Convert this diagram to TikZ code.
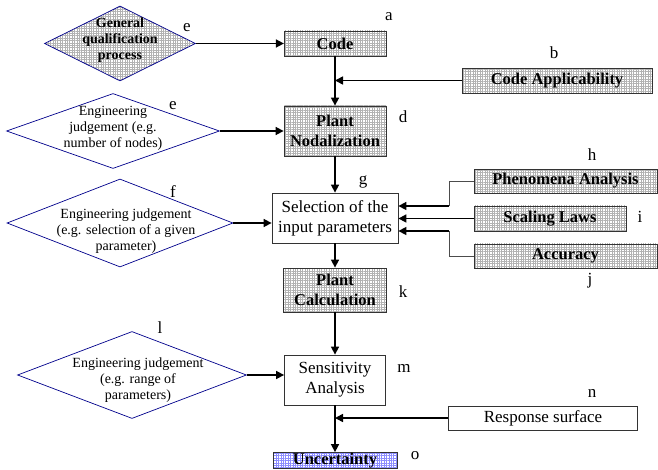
\documentclass[tikz,border=0pt]{standalone}
\usepackage{fontspec}
\setmainfont{Liberation Serif}
\usetikzlibrary{shapes.geometric, arrows.meta, patterns.meta}

\begin{document}
\begin{tikzpicture}[x=1pt, y=-1pt,
  block/.style={rectangle, draw=black!80, line width=0.8pt, align=center, inner sep=0pt, font=\fontsize{17}{20}\selectfont},
  grid/.style={pattern={Hatch[distance=2.4pt, line width=0.25pt]}, pattern color=black!30},
  hatched/.style={block, grid, font=\fontsize{16.5}{20}\selectfont\bfseries},
  judge/.style={diamond, draw=blue!55!black, line width=0.7pt, inner sep=0pt},
  judgetext/.style={align=center, inner sep=0pt, font=\fontsize{14}{16}\selectfont},
  tag/.style={inner sep=0pt, font=\fontsize{17}{20}\selectfont},
  flow/.style={line width=1.6pt, -{Triangle[length=8pt, width=8pt]}},
  feed/.style={line width=0.8pt, draw=black!70}]
  \fill[white] (0,0) rectangle (658,470);
  \useasboundingbox (0,0) rectangle (658,470);

  \node[hatched, minimum width=102pt, minimum height=25pt] (code) at (335,43.5) {Code};
  \node[hatched, minimum width=190pt, minimum height=25pt] (appl) at (557,80.5) {Code Applicability};
  \node[hatched, minimum width=102pt, minimum height=50pt] (nodal) at (335,131) {Plant\\Nodalization};
  \node[block, minimum width=126pt, minimum height=50pt] (sel) at (335,218) {Selection of the\\input parameters};
  \node[hatched, minimum width=183pt, minimum height=24pt] (phen) at (565.5,181) {Phenomena Analysis};
  \node[hatched, minimum width=152pt, minimum height=25pt] (scal) at (550,218.5) {Scaling Laws};
  \node[hatched, minimum width=183pt, minimum height=24pt] (accu) at (565.5,256) {Accuracy};
  \node[hatched, minimum width=103pt, minimum height=44pt] (calc) at (335,290) {Plant\\Calculation};
  \node[block, minimum width=101pt, minimum height=50pt] (sens) at (335,380) {Sensitivity\\Analysis};
  \node[block, minimum width=189pt, minimum height=24pt] (resp) at (543,418) {Response surface};
  \node[hatched, pattern color=blue!45, minimum width=124pt, minimum height=16pt] (unc) at (335,460.5) {Uncertainty};

  \node[judge, grid, minimum width=151pt, minimum height=75pt] (gq) at (120,43.5) {};
  \node[judgetext, font=\fontsize{14}{16}\selectfont\bfseries] (gqtext) at (120,40) {General\\qualification\\process};
  \node[judge, minimum width=213pt, minimum height=75pt] (ej1) at (113,131) {};
  \node[judgetext] (ej1text) at (113,128) {Engineering\\judgement (e.g.\\number of nodes)};
  \node[judge, minimum width=226pt, minimum height=88pt] (ej2) at (120,223) {};
  \node[judgetext] (ej2text) at (126,231) {Engineering judgement\\(e.g. selection of a given\\parameter)};
  \node[judge, minimum width=229pt, minimum height=87pt] (ej3) at (132,375) {};
  \node[judgetext] (ej3text) at (138,380) {Engineering judgement\\(e.g. range of\\parameters)};

  \node[tag] (la) at (389,17) {a};
  \node[tag] (lb) at (554,53) {b};
  \node[tag] (le1) at (187,28) {e};
  \node[tag] (le2) at (173,106) {e};
  \node[tag] (ld) at (403,117) {d};
  \node[tag] (lh) at (592,155) {h};
  \node[tag] (lg) at (363,182) {g};
  \node[tag] (lf) at (173,192) {f};
  \node[tag] (li) at (640,217) {i};
  \node[tag] (lj) at (590,281) {j};
  \node[tag] (lk) at (403,292) {k};
  \node[tag] (ll) at (160,328) {l};
  \node[tag] (lm) at (404,368) {m};
  \node[tag] (ln) at (592,393) {n};
  \node[tag] (lo) at (415,456) {o};

  \coordinate (phenbend) at (449,206);
  \coordinate (accubend) at (449,231);

  \draw[flow] (gq.east) -- (code.west);
  \draw[flow] (ej1.east) -- (nodal.west);
  \draw[flow] (ej2.east) -- (ej2.east -| sel.west);
  \draw[flow] (ej3.east) -- (ej3.east -| sens.west);
  \draw[flow] (code.south) -- (nodal.north);
  \draw[flow] (appl.west) -- (appl.west -| code.south);
  \draw[flow] (nodal.south) -- (sel.north);
  \draw[flow] (sel.south) -- (calc.north);
  \draw[flow] (calc.south) -- (sens.north);
  \draw[flow] (sens.south) -- (unc.north);
  \draw[flow] (resp.west) -- (resp.west -| sens.south);
  \draw[feed] (phen.west) -| (phenbend);
  \draw[flow] (phenbend) -- (phenbend -| sel.east);
  \draw[flow] (scal.west) -- (scal.west -| sel.east);
  \draw[feed] (accu.west) -| (accubend);
  \draw[flow] (accubend) -- (accubend -| sel.east);
\end{tikzpicture}
\end{document}
